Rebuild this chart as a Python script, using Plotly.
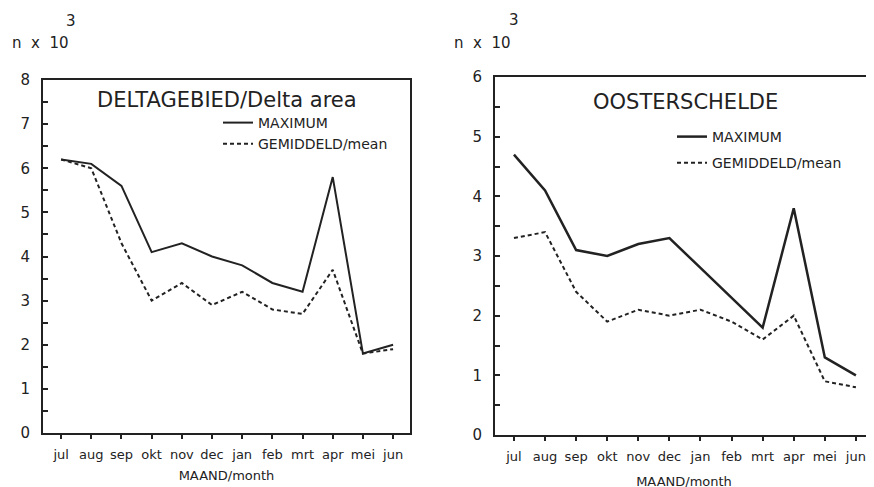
import plotly.graph_objects as go

months = ["jul", "aug", "sep", "okt", "nov", "dec", "jan", "feb", "mrt", "apr", "mei", "jun"]

delta_max = [6.2, 6.1, 5.6, 4.1, 4.3, 4.0, 3.8, 3.4, 3.2, 5.8, 1.8, 2.0]
delta_mean = [6.2, 6.0, 4.3, 3.0, 3.4, 2.9, 3.2, 2.8, 2.7, 3.7, 1.8, 1.9]

oost_max = [4.7, 4.1, 3.1, 3.0, 3.2, 3.3, 2.8, 2.3, 1.8, 3.8, 1.3, 1.0]
oost_mean = [3.3, 3.4, 2.4, 1.9, 2.1, 2.0, 2.1, 1.9, 1.6, 2.0, 0.9, 0.8]

left_title = "DELTAGEBIED/Delta area"
right_title = "OOSTERSCHELDE"
name_max = "MAXIMUM"
name_mean = "GEMIDDELD/mean"
x_title = "MAAND/month"
unit_text = "n\u00a0\u00a0x\u00a0\u00a010"

INK = "#222222"
FONT = "DejaVu Sans"
W, H = 874, 487
OFF = 8  # page body margin


def px_x(p):
    return (p - OFF) / W


def px_y(p):
    return 1 - (p - OFF) / H


xi = list(range(len(months)))

fig = go.Figure()
fig.add_trace(go.Scatter(x=xi, y=delta_max, name=name_max, mode="lines",
                         line=dict(color=INK, width=2), xaxis="x", yaxis="y",
                         legend="legend", legendgroup="a"))
fig.add_trace(go.Scatter(x=xi, y=delta_mean, name=name_mean, mode="lines",
                         line=dict(color=INK, width=2, dash="4px,3px"), xaxis="x", yaxis="y",
                         legend="legend", legendgroup="b"))
fig.add_trace(go.Scatter(x=xi, y=oost_max, name=name_max, mode="lines",
                         line=dict(color=INK, width=2.5), xaxis="x2", yaxis="y2",
                         legend="legend2", legendgroup="c"))
fig.add_trace(go.Scatter(x=xi, y=oost_mean, name=name_mean, mode="lines",
                         line=dict(color=INK, width=2, dash="4px,3px"), xaxis="x2", yaxis="y2",
                         legend="legend2", legendgroup="d"))


def common_x(standoff):
    return dict(
        tickmode="array", tickvals=xi, ticktext=months,
        ticks="outside", ticklen=4, tickwidth=1.5, tickcolor=INK,
        showline=True, linecolor=INK, linewidth=2, mirror=True,
        showgrid=False, zeroline=False, automargin=False,
        ticklabelstandoff=4,
        tickfont=dict(family=FONT, size=13, color=INK),
        title=dict(text=x_title, font=dict(family=FONT, size=13, color=INK), standoff=standoff),
    )


common_y = dict(
    ticks="inside", ticklen=5, tickwidth=1.5, tickcolor=INK,
    showline=True, linecolor=INK, linewidth=2, mirror=True,
    showgrid=False, zeroline=False, automargin=False,
    ticklabelstandoff=8,
    tickfont=dict(family=FONT, size=15, color=INK),
    minor=dict(ticks="inside", ticklen=5, tickwidth=1.5, tickcolor=INK, dtick=0.5),
)


def ann(text, x, y, size):
    return dict(text=text, x=px_x(x), y=px_y(y), xref="paper", yref="paper",
                xanchor="center", yanchor="middle", showarrow=False,
                font=dict(family=FONT, size=size, color=INK))


fig.update_layout(
    width=W, height=H,
    paper_bgcolor="white", plot_bgcolor="white",
    margin=dict(l=0, r=0, t=0, b=0),
    xaxis=dict(domain=[px_x(43), px_x(410)], range=[-0.6, 11.56], anchor="y", **common_x(10)),
    yaxis=dict(domain=[px_y(433), px_y(80)], range=[0, 8], dtick=1, anchor="x", **common_y),
    xaxis2=dict(domain=[px_x(495), px_x(873)], range=[-0.61, 11.55], anchor="y2", **common_x(14)),
    yaxis2=dict(domain=[px_y(435), px_y(77)], range=[0, 6], dtick=1, anchor="x2", **common_y),
    legend=dict(x=px_x(218), y=px_y(107), xanchor="left", yanchor="top",
                bgcolor="rgba(0,0,0,0)", font=dict(family=FONT, size=14, color=INK),
                tracegroupgap=0, itemwidth=30),
    legend2=dict(x=px_x(672), y=px_y(121), xanchor="left", yanchor="top",
                 bgcolor="rgba(0,0,0,0)", font=dict(family=FONT, size=14, color=INK),
                 tracegroupgap=5, itemwidth=30),
    showlegend=True,
    annotations=[
        ann(left_title, 227, 100, 21),
        ann(right_title, 685, 102, 21),
        ann(unit_text, 40, 43, 15),
        ann("3", 71, 21, 15),
        ann(unit_text, 482, 43, 15),
        ann("3", 514, 20, 15),
    ],
)

fig.write_html("out.html")
